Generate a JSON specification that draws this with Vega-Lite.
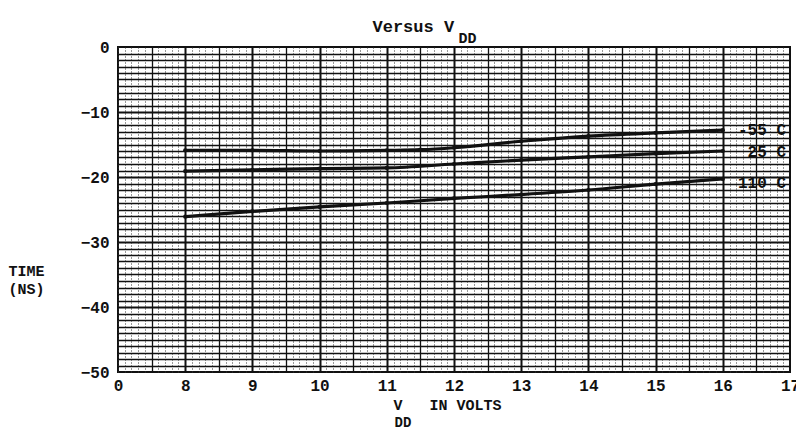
{
  "$schema": "https://vega.github.io/schema/vega-lite/v6.json",
  "width": 672,
  "height": 325,
  "autosize": "none",
  "padding": {"left": 118, "top": 47, "right": 6, "bottom": 60},
  "background": "white",
  "config": {
    "view": {"stroke": "#111", "strokeWidth": 2},
    "font": "Liberation Mono"
  },
  "datasets": {
    "curves": [
      {"series": "-55 C", "V": 8, "T": -15.9},
      {"series": "-55 C", "V": 9, "T": -15.9},
      {"series": "-55 C", "V": 10, "T": -16.0},
      {"series": "-55 C", "V": 11, "T": -15.9},
      {"series": "-55 C", "V": 11.5, "T": -15.8},
      {"series": "-55 C", "V": 12, "T": -15.5},
      {"series": "-55 C", "V": 13, "T": -14.5},
      {"series": "-55 C", "V": 14, "T": -13.7},
      {"series": "-55 C", "V": 15, "T": -13.2},
      {"series": "-55 C", "V": 16, "T": -12.8},
      {"series": "25 C", "V": 8, "T": -19.1},
      {"series": "25 C", "V": 9, "T": -18.9},
      {"series": "25 C", "V": 10, "T": -18.7},
      {"series": "25 C", "V": 11, "T": -18.6},
      {"series": "25 C", "V": 12, "T": -18.0},
      {"series": "25 C", "V": 13, "T": -17.4},
      {"series": "25 C", "V": 14, "T": -16.9},
      {"series": "25 C", "V": 15, "T": -16.4},
      {"series": "25 C", "V": 16, "T": -16.0},
      {"series": "110 C", "V": 8, "T": -26.1},
      {"series": "110 C", "V": 9, "T": -25.3},
      {"series": "110 C", "V": 10, "T": -24.6},
      {"series": "110 C", "V": 11, "T": -24.0},
      {"series": "110 C", "V": 12, "T": -23.3},
      {"series": "110 C", "V": 13, "T": -22.7},
      {"series": "110 C", "V": 14, "T": -22.0},
      {"series": "110 C", "V": 15, "T": -21.1},
      {"series": "110 C", "V": 16, "T": -20.3}
    ],
    "labels": [
      {"label": "-55 C", "V": 17, "T": -12.7},
      {"label": "25 C", "V": 17, "T": -16.1},
      {"label": "110 C", "V": 17, "T": -20.9}
    ]
  },
  "layer": [
    {
      "data": {"name": "curves"},
      "mark": {"type": "point", "opacity": 0},
      "encoding": {
        "x": {"field": "V", "type": "quantitative", "scale": {"domain": [7, 17], "nice": false, "zero": false},
          "axis": {"orient": "bottom", "values": [7,7.1,7.2,7.3,7.4,7.6,7.7,7.8,7.9,8.1,8.2,8.3,8.4,8.6,8.7,8.8,8.9,9.1,9.2,9.3,9.4,9.6,9.7,9.8,9.9,10.1,10.2,10.3,10.4,10.6,10.7,10.8,10.9,11.1,11.2,11.3,11.4,11.6,11.7,11.8,11.9,12.1,12.2,12.3,12.4,12.6,12.7,12.8,12.9,13.1,13.2,13.3,13.4,13.6,13.7,13.8,13.9,14.1,14.2,14.3,14.4,14.6,14.7,14.8,14.9,15.1,15.2,15.3,15.4,15.6,15.7,15.8,15.9,16.1,16.2,16.3,16.4,16.6,16.7,16.8,16.9],
            "labels": false, "ticks": false, "domain": false,
            "title": "DD",
            "titleFont": "Liberation Mono", "titleFontWeight": "bold", "titleFontSize": 14, "titleColor": "#111",
            "titleAlign": "left", "titleBaseline": "alphabetic", "titleAngle": 0, "titleX": 276, "titleY": 54,
            "grid": true, "gridColor": "#333", "gridWidth": 1, "gridDash": [1, 2]}},
        "y": {"field": "T", "type": "quantitative", "scale": {"domain": [-50, 0], "nice": false, "zero": false},
          "axis": {"orient": "left", "values": [-49,-48,-47,-46,-44,-43,-42,-41,-39,-38,-37,-36,-34,-33,-32,-31,-29,-28,-27,-26,-24,-23,-22,-21,-19,-18,-17,-16,-14,-13,-12,-11,-9,-8,-7,-6,-4,-3,-2,-1],
            "labels": false, "ticks": false, "domain": false, "title": null,
            "grid": true, "gridColor": "#111", "gridWidth": 1.4}}
      }
    },
    {
      "data": {"name": "curves"},
      "mark": {"type": "point", "opacity": 0},
      "encoding": {
        "x": {"field": "V", "type": "quantitative",
          "axis": {"orient": "top", "values": [7.5,8.5,9.5,10.5,11.5,12.5,13.5,14.5,15.5,16.5],
            "labels": false, "ticks": false, "domain": false,
            "title": "DD",
            "titleFont": "Liberation Mono", "titleFontWeight": "bold", "titleFontSize": 15, "titleColor": "#111",
            "titleAlign": "left", "titleBaseline": "alphabetic", "titleAngle": 0, "titleX": 340, "titleY": -5,
            "grid": true, "gridColor": "#111", "gridWidth": 1.3}},
        "y": {"field": "T", "type": "quantitative",
          "axis": {"orient": "left", "values": [-45,-35,-25,-15,-5],
            "labels": false, "ticks": false, "domain": false, "title": null,
            "grid": true, "gridColor": "#111", "gridWidth": 1.7}}
      }
    },
    {
      "data": {"name": "curves"},
      "mark": {"type": "point", "opacity": 0},
      "encoding": {
        "x": {"field": "V", "type": "quantitative",
          "axis": {"orient": "top", "values": [8,9,10,11,12,13,14,15,16],
            "labels": false, "ticks": false, "domain": false,
            "title": "Versus V",
            "titleFont": "Liberation Mono", "titleFontWeight": "bold", "titleFontSize": 17, "titleColor": "#111",
            "titleAlign": "left", "titleBaseline": "alphabetic", "titleAngle": 0, "titleX": 254, "titleY": -16,
            "grid": true, "gridColor": "#111", "gridWidth": 2}},
        "y": {"field": "T", "type": "quantitative",
          "axis": {"orient": "left", "values": [-40,-30,-20,-10],
            "labels": false, "ticks": false, "domain": false, "title": null,
            "grid": true, "gridColor": "#111", "gridWidth": 2}}
      }
    },
    {
      "data": {"name": "curves"},
      "mark": {"type": "line", "color": "#111", "strokeWidth": 3.2, "interpolate": "monotone", "point": {"filled": true, "size": 18, "color": "#111"}},
      "encoding": {
        "x": {"field": "V", "type": "quantitative",
          "axis": {"orient": "bottom", "values": [7,8,9,10,11,12,13,14,15,16,17],
            "labelExpr": "datum.value == 7 ? '0' : datum.label",
            "labelFlush": false, "labelOverlap": false,
            "ticks": false, "domain": false, "grid": false,
            "labelFont": "Liberation Mono", "labelFontWeight": "bold", "labelFontSize": 16, "labelColor": "#111", "labelPadding": 5,
            "title": "V\u00a0\u00a0\u00a0IN VOLTS",
            "titleFont": "Liberation Mono", "titleFontWeight": "bold", "titleFontSize": 15, "titleColor": "#111",
            "titleAlign": "left", "titleBaseline": "alphabetic", "titleX": 275, "titleY": 37}},
        "y": {"field": "T", "type": "quantitative",
          "axis": {"orient": "left", "values": [0,-10,-20,-30,-40,-50],
            "labelFlush": false, "labelOverlap": false,
            "ticks": false, "domain": false, "grid": false,
            "labelFont": "Liberation Mono", "labelFontWeight": "bold", "labelFontSize": 16, "labelColor": "#111", "labelPadding": 9,
            "title": ["TIME", "(NS)"],
            "titleFont": "Liberation Mono", "titleFontWeight": "bold", "titleFontSize": 15, "titleColor": "#111",
            "titleAngle": 0, "titleAlign": "left", "titleBaseline": "alphabetic", "titleX": -110, "titleY": 228, "titleLineHeight": 18}},
        "detail": {"field": "series"}
      }
    },
    {
      "data": {"name": "labels"},
      "mark": {"type": "text", "align": "right", "baseline": "middle", "dx": -4, "font": "Liberation Mono", "fontWeight": "bold", "fontSize": 16, "color": "#111"},
      "encoding": {
        "x": {"field": "V", "type": "quantitative", "axis": null},
        "y": {"field": "T", "type": "quantitative", "axis": null},
        "text": {"field": "label"}
      }
    }
  ],
  "resolve": {"axis": {"x": "independent", "y": "independent"}}
}
